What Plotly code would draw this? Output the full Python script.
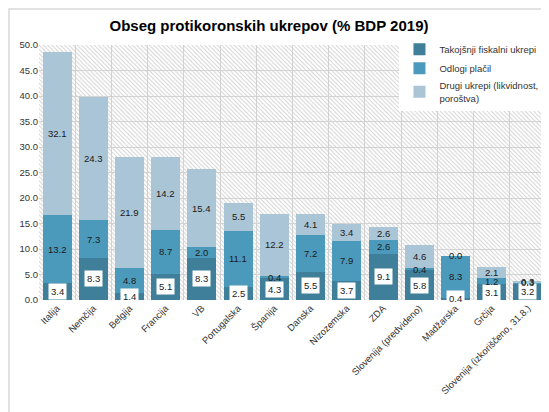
import plotly.graph_objs as go

# Podatki (v % BDP 2019)
drzave = ['Italija', 'Nemčija', 'Belgija', 'Francija', 'VB', 'Portugalska', 'Španija',
          'Danska', 'Nizozemska', 'ZDA', 'Slovenija (predvideno)', 'Madžarska', 'Grčija',
          'Slovenija (izkoriščeno, 31.8.)']
takojsnji = [3.4, 8.3, 1.4, 5.1, 8.3, 2.5, 4.3, 5.5, 3.7, 9.1, 5.8, 0.4, 3.1, 3.2]
odlogi = [13.2, 7.3, 4.8, 8.7, 2.0, 11.1, 0.4, 7.2, 7.9, 2.6, 0.4, 8.3, 1.2, 0.3]
drugi = [32.1, 24.3, 21.9, 14.2, 15.4, 5.5, 12.2, 4.1, 3.4, 2.6, 4.6, 0.0, 2.1, 0.3]

serije = [
    ('Takojšnji fiskalni ukrepi', takojsnji, '#3f7f9a'),
    ('Odlogi plačil', odlogi, '#4c9abb'),
    ('Drugi ukrepi (likvidnost,<br>poroštva)', drugi, '#aac5d5'),
]

W, H = 549, 412
L, R, T, B = 31, 11, 37, 120
pw, ph = W - L - R, H - T - B

fig = go.Figure()

# šrafirano ozadje ploskve (samo dekoracija, na skriti osi)
fig.add_trace(go.Bar(x=[0.5], y=[50], width=[1], xaxis='x', yaxis='y', showlegend=False,
                     hoverinfo='skip', marker=dict(color='#cfcfcf', line_width=0,
                     pattern=dict(shape='\\', size=3, solidity=0.3, fillmode='replace'))))

annotations = []
base = [0.0] * len(drzave)
for i, (ime, vals, barva) in enumerate(serije):
    fig.add_trace(go.Bar(x=drzave, y=vals, name=ime, marker_color=barva, xaxis='x2',
                         yaxis='y2', marker_line_width=0, hoverinfo='skip'))
    for d, b, v in zip(drzave, base, vals):
        a = dict(x=d, y=b + v / 2, xref='x2', yref='y2', text=f'{v:.1f}', showarrow=False,
                 font=dict(size=9.5, color='#1a1a1a'))
        if i == 0:
            a.update(bgcolor='white', borderpad=2)
        annotations.append(a)
    base = [b + v for b, v in zip(base, vals)]

fig.update_layout(
    width=W, height=H,
    margin=dict(l=L, r=R, t=T, b=B),
    barmode='stack', bargap=0.2,
    paper_bgcolor='white', plot_bgcolor='white',
    font=dict(family='Liberation Sans, Arial', size=9, color='#333333'),
    title=dict(text='<b>Obseg protikoronskih ukrepov (% BDP 2019)</b>',
               x=261 / W, xanchor='center', y=1 - 18 / H, yanchor='middle', yref='container',
               font=dict(size=15, color='black')),
    xaxis=dict(range=[0, 1], visible=False, fixedrange=True),
    yaxis=dict(range=[0, 50], visible=False, fixedrange=True),
    xaxis2=dict(overlaying='x', anchor='y2', side='bottom', tickangle=-45,
                tickson='boundaries', showgrid=True, gridcolor='#d4d4d4', gridwidth=1.2,
                ticks='', tickfont=dict(size=9.5)),
    yaxis2=dict(overlaying='y', anchor='x2', side='left', range=[0, 50], dtick=5,
                tickformat='.1f', showgrid=True, gridcolor='#d4d4d4', gridwidth=1.2,
                zeroline=False, ticks='', tickfont=dict(size=9.5)),
    legend=dict(x=0.995, xanchor='right', y=1.04, yanchor='top', bgcolor='white',
                traceorder='normal', font=dict(size=9.5, color='#333333'),
                itemwidth=30, tracegroupgap=2, borderwidth=0),
    annotations=annotations,
    shapes=[dict(type='rect', xref='paper', yref='paper',
                 x0=(-L + 1) / pw, x1=1 + (R - 1) / pw, y0=(-B + 1) / ph, y1=1 + (T - 1) / ph,
                 line=dict(color='#d9d9d9', width=1.5))],
    showlegend=True,
)

fig.write_html('out.html')
